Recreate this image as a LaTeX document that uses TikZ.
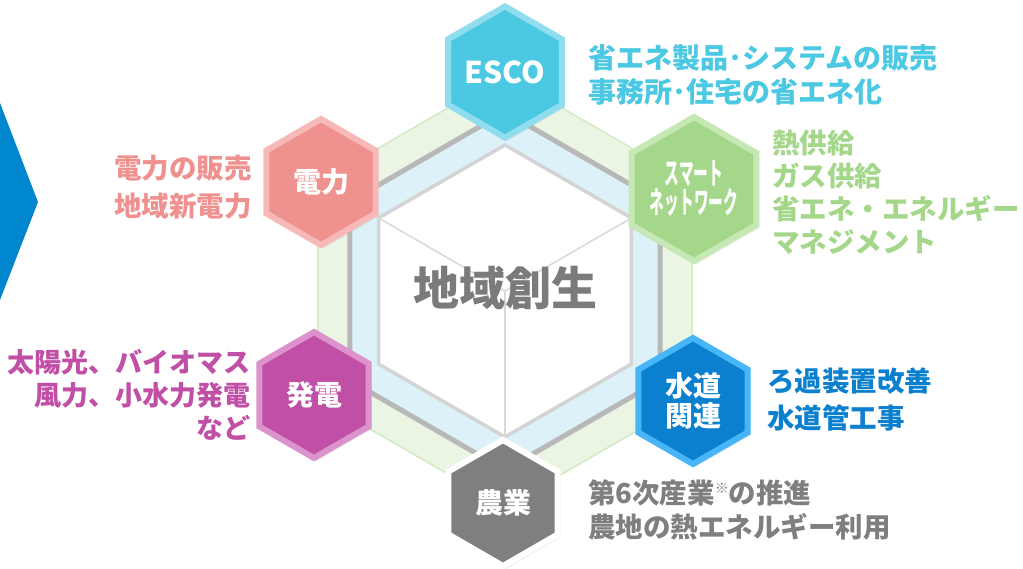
\documentclass[tikz,border=0pt]{standalone}
\usepackage{fontspec}
\usepackage{graphicx}
\setmainfont{Noto Sans CJK JP}
\usetikzlibrary{shapes.geometric,shadows}
\definecolor{arrowblue}{HTML}{0085CF}
\definecolor{bandgreen}{HTML}{EAF5E3}
\definecolor{bandgreenline}{HTML}{D3EAC5}
\definecolor{bandblue}{HTML}{DCF2F8}
\definecolor{grayline}{HTML}{B8B8B8}
\definecolor{coreline}{HTML}{D4D4D4}
\definecolor{cubeline}{HTML}{D9D9D9}
\definecolor{centergray}{HTML}{7B7B7B}
\definecolor{escofill}{HTML}{4BC9E3}
\definecolor{escoline}{HTML}{8FDDEF}
\definecolor{denfill}{HTML}{EF928F}
\definecolor{denline}{HTML}{F6B9B8}
\definecolor{smfill}{HTML}{A4D78A}
\definecolor{smline}{HTML}{C6E8B5}
\definecolor{suifill}{HTML}{0A80CE}
\definecolor{suiline}{HTML}{47B5F7}
\definecolor{nofill}{HTML}{7F7F7F}
\definecolor{hatfill}{HTML}{C04FA5}
\definecolor{hatline}{HTML}{DC93CD}
\begin{document}
\begin{tikzpicture}[x=1pt,y=-1pt,
  band/.style={regular polygon, regular polygon sides=6, regular polygon rotate=30, inner sep=0pt},
  hexnode/.style={regular polygon, regular polygon sides=6, regular polygon rotate=30,
    minimum size=126pt, inner sep=0pt, line width=6pt, text=white, align=center,
    font=\fontsize{28}{30}\selectfont\bfseries,
    drop shadow={opacity=0.12, shadow xshift=3pt, shadow yshift=-3pt}},
  desc/.style={inner sep=0pt, font=\fontsize{27.5}{34}\selectfont\bfseries},
  cube/.style={draw=cubeline, line width=1.5pt}
]
\path[use as bounding box, fill=white] (0,0) rectangle (1023,569);
% left arrow
\fill[arrowblue] (0,103) -- (38,202) -- (0,300) -- cycle;
% bands
\node[band, minimum size=432pt, fill=bandgreen, draw=bandgreenline, line width=1.5pt] (outer) at (505,291) {};
\node[band, minimum size=358pt, fill=bandblue, draw=grayline, line width=5pt] (mid) at (505,291) {};
\node[band, minimum size=292pt, fill=white, draw=coreline, line width=3.5pt] (core) at (505,291) {};
\draw[cube] (core.center) -- (core.corner 2);
\draw[cube] (core.center) -- (core.corner 6);
\draw[cube] (core.center) -- (core.corner 4);
\node[font=\fontsize{46}{46}\selectfont\bfseries, text=centergray, inner sep=0pt] (title) at (505,288) {地域創生};
% hexagon nodes
\node[hexnode, fill=escofill, draw=escoline, font=\fontsize{30}{30}\selectfont\bfseries] (esco) at (505,72) {ESCO};
\node[hexnode, fill=denfill, draw=denline] (denryoku) at (321,182) {電力};
\node[hexnode, fill=smfill, draw=smline, font=\fontsize{30}{30}\selectfont\bfseries] (smart) at (694,189) {\scalebox{0.49}[1]{スマート}\\[-1pt]\scalebox{0.49}[1]{ネットワーク}};
\node[hexnode, fill=hatfill, draw=hatline] (hatsuden) at (314,395) {発電};
\node[hexnode, fill=suifill, draw=suiline] (suido) at (693,401) {水道\\関連};
\node[hexnode, fill=nofill, draw=white] (nogyo) at (503,503) {農業};
% descriptions
\node[desc, text=escofill, anchor=west, align=left, font=\fontsize{28}{34}\selectfont\bfseries] (escotext) at (588,75) {省エネ製品･システムの販売\\事務所･住宅の省エネ化};
\node[desc, text=smfill, anchor=west, align=left, font=\fontsize{27.5}{33}\selectfont\bfseries] (smarttext) at (772,192) {熱供給\\ガス供給\\省エネ・エネルギー\\マネジメント};
\node[desc, text=suifill, anchor=west, align=left, font=\fontsize{27.5}{37}\selectfont\bfseries] (suidotext) at (767,400) {ろ過装置改善\\水道管工事};
\node[desc, text=nofill, anchor=west, align=left] (nogyotext) at (588,510) {第6次産業\raisebox{0.38em}{\fontsize{14}{14}\selectfont ※}の推進\\農地の熱エネルギー利用};
\node[desc, text=denfill, anchor=east, align=right, font=\fontsize{27.5}{38}\selectfont\bfseries] (dentext) at (252,187) {電力の販売\\地域新電力};
\node[desc, text=hatfill, anchor=east, align=right, font=\fontsize{27}{33}\selectfont\bfseries] (hattext) at (251,395) {太陽光、バイオマス\\風力、小水力発電\\など};
\end{tikzpicture}
\end{document}
